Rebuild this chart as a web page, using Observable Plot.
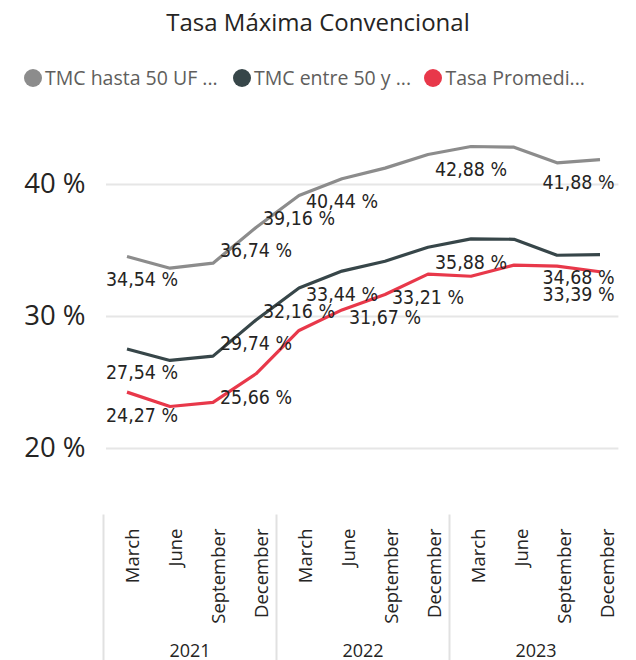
<!DOCTYPE html>
<html>
<head>
<meta charset="utf-8">
<script src="https://cdn.jsdelivr.net/npm/d3@7"></script>
<script src="https://cdn.jsdelivr.net/npm/@observablehq/plot@0.6"></script>
<style>
  html, body { margin: 0; padding: 0; background: #fff; }
  #wrap { position: relative; width: 636px; height: 660px; overflow: hidden; font-family: "Open Sans", sans-serif; }
  #title { position: absolute; top: 7px; left: 0; width: 636px; text-align: center; font-size: 24px; line-height: 30px; color: #252423; }
  .sw { position: absolute; width: 18px; height: 18px; border-radius: 50%; top: 68.5px; }
  .lt { position: absolute; top: 65.5px; font-size: 19.5px; line-height: 24px; color: #605E5C; white-space: nowrap; }
  #top { position: absolute; left: 0; top: 100px; }
  #bottom { position: absolute; left: 0; top: 505px; }
</style>
</head>
<body>
<div id="wrap">
  <div id="title">Tasa Máxima Convencional</div>
  <div id="legend"></div>
  <div id="top"></div>
  <div id="bottom"></div>
</div>
<script>
// ---- data ----
const years = ["2021", "2022", "2023"];
const months = ["March", "June", "September", "December"];
const periods = [
  "March 2021", "June 2021", "September 2021", "December 2021",
  "March 2022", "June 2022", "September 2022", "December 2022",
  "March 2023", "June 2023", "September 2023", "December 2023"
];
const seriesNames = ["TMC hasta 50 UF ...", "TMC entre 50 y ...", "Tasa Promedi..."];
const seriesColors = ["#8C8C8C", "#374649", "#E8384A"];
const tmcHasta50 = [34.54, 33.66, 34.04, 36.74, 39.16, 40.44, 41.24, 42.27, 42.88, 42.83, 41.64, 41.88];
const tmcEntre50 = [27.54, 26.67, 27.00, 29.74, 32.16, 33.44, 34.19, 35.25, 35.88, 35.85, 34.64, 34.68];
const tasaPromedio = [24.27, 23.18, 23.50, 25.66, 28.94, 30.50, 31.67, 33.21, 33.05, 33.89, 33.81, 33.39];
const labeledHasta50 = [0, 3, 4, 5, 8, 11];
const labeledEntre50 = [0, 3, 4, 5, 8, 11];
const labeledPromedio = [0, 3, 6, 7, 11];
const yTicks = [20, 30, 40];

// ---- build tables ----
const seriesValues = [tmcHasta50, tmcEntre50, tasaPromedio];
const seriesLabeled = [labeledHasta50, labeledEntre50, labeledPromedio];
const rows = [];
seriesNames.forEach((name, s) => {
  seriesValues[s].forEach((v, i) => {
    rows.push({series: name, period: periods[i], value: v, index: i, labeled: seriesLabeled[s].includes(i)});
  });
});
const fmt = v => v.toFixed(2).replace(".", ",") + " %";
const labelRows = rows.filter(d => d.labeled);
const last = periods.length - 1;

// ---- legend ----
const legend = document.getElementById("legend");
const swLeft = [23.5, 232.5, 424];
seriesNames.forEach((name, i) => {
  const c = document.createElement("div");
  c.className = "sw"; c.style.left = swLeft[i] + "px"; c.style.background = seriesColors[i];
  legend.appendChild(c);
  const t = document.createElement("div");
  t.className = "lt"; t.style.left = (swLeft[i] + 21.5) + "px"; t.textContent = name;
  legend.appendChild(t);
});

// ---- main chart ----
const labelFont = {fontFamily: "DejaVu Sans Condensed", fontSize: 19.4, fill: "#252423", dy: 23.5};
const topChart = Plot.plot({
  width: 636, height: 405,
  marginLeft: 102, marginRight: 12.6, marginTop: 18, marginBottom: 17.4,
  x: {type: "band", domain: periods, padding: 0, axis: null},
  y: {domain: [17, 45], axis: null},
  color: {domain: seriesNames, range: seriesColors},
  style: {fontFamily: "Open Sans", background: "transparent"},
  marks: [
    Plot.ruleY(yTicks, {stroke: "#E6E6E6", strokeWidth: 2, insetLeft: 4, insetRight: 5}),
    Plot.axisY(yTicks, {tickSize: 0, tickPadding: 17, fontSize: 27.5, fill: "#252423", tickFormat: d => d + " %", label: null}),
    Plot.line(rows, {x: "period", y: "value", z: "series", stroke: "series", strokeWidth: 3.2, strokeLinejoin: "round", strokeLinecap: "butt"}),
    Plot.text(labelRows.filter(d => d.index === 0), {x: "period", y: "value", text: d => fmt(d.value), textAnchor: "start", dx: -21, ...labelFont}),
    Plot.text(labelRows.filter(d => d.index > 0 && d.index < last), {x: "period", y: "value", text: d => fmt(d.value), textAnchor: "middle", ...labelFont}),
    Plot.text(labelRows.filter(d => d.index === last), {x: "period", y: "value", text: d => fmt(d.value), textAnchor: "end", dx: 14.5, ...labelFont})
  ]
});
document.getElementById("top").appendChild(topChart);

// ---- hierarchical x axis ----
const axisRows = years.flatMap(y => months.map(m => ({year: y, month: m})));
const bottomChart = Plot.plot({
  width: 636, height: 155,
  marginLeft: 102, marginRight: 12.6, marginTop: 10, marginBottom: 0,
  fx: {domain: years, padding: 0, axis: null},
  x: {type: "band", domain: months, padding: 0, axis: null},
  style: {fontFamily: "Open Sans", background: "transparent"},
  marks: [
    Plot.frame({anchor: "left", stroke: "#E1E1E1", strokeWidth: 2}),
    Plot.text(axisRows, {fx: "year", x: "month", text: "month", rotate: -90, textAnchor: "end", frameAnchor: "top", dy: 13, fontSize: 18.5, fill: "#252423"}),
    Plot.text(years, {fx: d => d, text: d => d, frameAnchor: "bottom", dy: -4, fontSize: 18, fill: "#252423"})
  ]
});
document.getElementById("bottom").appendChild(bottomChart);
</script>
</body>
</html>
